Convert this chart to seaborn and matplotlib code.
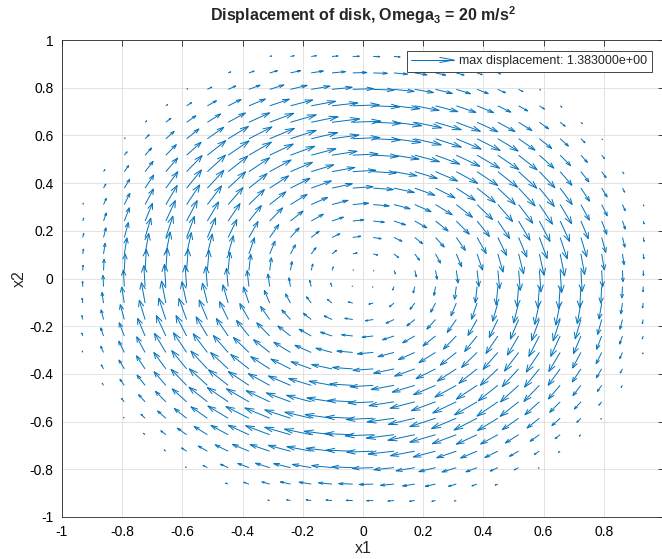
import numpy as np
import matplotlib
matplotlib.use("Agg")
import matplotlib.pyplot as plt
import seaborn as sns
from matplotlib.collections import LineCollection
from matplotlib.legend_handler import HandlerBase
from matplotlib.lines import Line2D

# Mesh node coordinates (same set along x1 and x2), nodes kept inside the disk
node_coords = [-0.931, -0.862, -0.793, -0.724, -0.655, -0.586, -0.517, -0.448,
               -0.379, -0.310, -0.241, -0.172, -0.103, -0.034, 0.034, 0.103,
               0.172, 0.241, 0.310, 0.379, 0.448, 0.517, 0.586, 0.655,
               0.724, 0.793, 0.862, 0.931]
disk_radius = 1.0

# Tangential (clockwise) displacement magnitude against radius
profile_r = [0.00, 0.05, 0.11, 0.17, 0.24, 0.31, 0.40, 0.50, 0.60, 0.66,
             0.72, 0.80, 0.87, 0.93, 0.97, 1.00]
profile_disp = [0.00, 0.05, 0.23, 0.39, 0.54, 0.78, 1.06, 1.22, 1.35, 1.383,
                1.33, 1.00, 0.66, 0.33, 0.15, 0.00]
max_disp = 1.383
omega3 = 20

tick_vals = [-1, -0.8, -0.6, -0.4, -0.2, 0, 0.2, 0.4, 0.6, 0.8, 1]
x_tick_labels = ["-1", "-0.8", "-0.6", "-0.4", "-0.2", "0", "0.2", "0.4", "0.6", "0.8", ""]
y_tick_labels = ["-1", "-0.8", "-0.6", "-0.4", "-0.2", "0", "0.2", "0.4", "0.6", "0.8", "1"]

BLUE = "#0072BD"
INK = "#262626"

sns.set_theme(style="whitegrid")
plt.rcParams["font.family"] = ["Liberation Sans", "DejaVu Sans"]
plt.rcParams["mathtext.fontset"] = "custom"
plt.rcParams["mathtext.rm"] = "Liberation Sans"
plt.rcParams["mathtext.bf"] = "Liberation Sans:bold"

fig = plt.figure(figsize=(6.62, 5.59), dpi=100)
ax = fig.add_axes([62 / 662, 42 / 559, 602 / 662, 477 / 559])

# nodes and displacement vectors
X, Y = np.meshgrid(np.array(node_coords), np.array(node_coords))
R = np.hypot(X, Y)
inside = R < disk_radius
x = X[inside]
y = Y[inside]
r = R[inside]
mag = np.interp(r, profile_r, profile_disp)
u = mag * y / r
v = -mag * x / r

# automatic arrow scaling (longest arrow = 0.9 of a mean cell diagonal)
n = np.sqrt(x.size)
delx = (x.max() - x.min()) / n
dely = (y.max() - y.min()) / n
length = np.sqrt((u ** 2 + v ** 2) / (delx ** 2 + dely ** 2))
s = 0.9 / length.max()
us, vs = u * s, v * s

alpha, beta = 0.33, 0.33
tipx, tipy = x + us, y + vs
segs = []
for i in range(x.size):
    if mag[i] <= 0:
        continue
    segs.append([(x[i], y[i]), (tipx[i], tipy[i])])
    segs.append([
        (tipx[i] - alpha * (us[i] + beta * vs[i]), tipy[i] - alpha * (vs[i] - beta * us[i])),
        (tipx[i], tipy[i]),
        (tipx[i] - alpha * (us[i] - beta * vs[i]), tipy[i] - alpha * (vs[i] + beta * us[i])),
    ])
arrows = LineCollection(segs, colors=BLUE, linewidths=0.7, zorder=3)
ax.add_collection(arrows)

ax.set_xlim(-1, 1)
ax.set_ylim(-1, 1)
ax.set_xticks(tick_vals)
ax.set_xticklabels(x_tick_labels)
ax.set_yticks(tick_vals)
ax.set_yticklabels(y_tick_labels)
ax.set_facecolor("white")
ax.grid(True, color="#dedede", linewidth=0.6)
for side in ax.spines.values():
    side.set_visible(True)
    side.set_color(INK)
    side.set_linewidth(0.6)
ax.tick_params(direction="in", length=4, width=0.6, colors=INK, labelsize=10,
               top=True, right=True, pad=6)
for lab in ax.get_xticklabels() + ax.get_yticklabels():
    lab.set_color("black")

ax.set_xlabel("x1", fontsize=11.5, labelpad=1)
ax.set_ylabel("x2", fontsize=11.5, labelpad=2)
ax.set_title(r"Displacement of disk, Omega$_\mathbf{3}$ = %d m/s$^\mathbf{2}$" % omega3,
             fontsize=11.5, fontweight="bold", pad=14)


class ArrowHandler(HandlerBase):
    def create_artists(self, legend, orig_handle, xdescent, ydescent,
                       width, height, fontsize, trans):
        y0 = height / 2 - ydescent
        x0, x1 = -xdescent, width - xdescent
        L = x1 - x0
        shaft = Line2D([x0, x1], [y0, y0], color=BLUE, lw=0.7, transform=trans)
        head = Line2D([x1 - 0.33 * L, x1, x1 - 0.33 * L],
                      [y0 + 0.06 * L, y0, y0 - 0.06 * L],
                      color=BLUE, lw=0.7, transform=trans)
        return [shaft, head]


handle = Line2D([], [], color=BLUE)
leg = ax.legend([handle], ["max displacement: %e" % max_disp],
                handler_map={Line2D: ArrowHandler()},
                loc="upper right", bbox_to_anchor=(0.98, 0.977),
                fontsize=9, frameon=True, fancybox=False, framealpha=1,
                handlelength=3.4, handletextpad=0.45, borderpad=0.35,
                borderaxespad=0)
leg.get_frame().set_edgecolor(INK)
leg.get_frame().set_linewidth(0.6)

fig.savefig("out.png", dpi=100, facecolor="white")
